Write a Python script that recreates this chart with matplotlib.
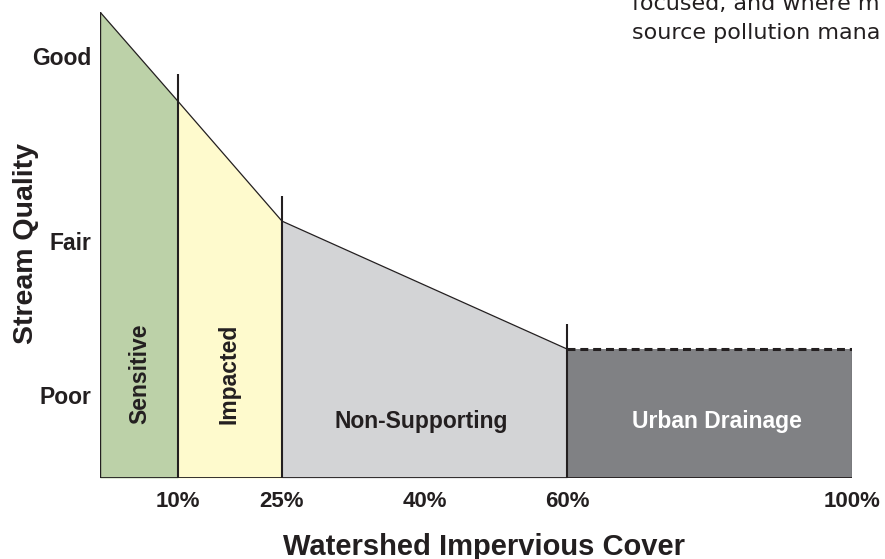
import numpy as np
import matplotlib
matplotlib.use('Agg')
import matplotlib.pyplot as plt

plt.rcParams['font.family'] = ['Liberation Sans', 'DejaVu Sans']

# schematic: the chart is not drawn to a linear scale
impervious = [0, 10, 25, 60, 100]
quality = [3.235, 2.754, 2.109, 1.30, 1.30]

zone_names = ['Sensitive', 'Impacted', 'Non-Supporting', 'Urban Drainage']
zone_bounds = [0, 10, 25, 60, 100]
zone_colors = ['#bcd1a8', '#fefacd', '#d3d4d6', '#808184']
divider_x = [10, 25, 60]
divider_top = [2.90, 2.246, 1.46]

x_ticks = [10, 25, 40, 60, 100]
x_labels = ['10%', '25%', '40%', '60%', '100%']
y_ticks = [1, 2, 3]
y_labels = ['Poor', 'Fair', 'Good']

# piecewise scales that follow the drawing
x_knots = [0, 10, 25, 40, 60, 100]
x_pos = [0, 78, 182, 325, 467, 752]
y_knots = [0, 1, 2, 3, 4]
y_pos = [0, 83, 237, 423, 609]


def fwd_x(v):
    return np.interp(v, x_knots, x_pos)


def inv_x(v):
    return np.interp(v, x_pos, x_knots)


def fwd_y(v):
    return np.interp(v, y_knots, y_pos)


def inv_y(v):
    return np.interp(v, y_pos, y_knots)


fig = plt.figure(figsize=(8.85, 5.59), dpi=100)
ax = fig.add_axes([100 / 885, 81 / 559, 752 / 885, 466 / 559])
ax.set_xscale('function', functions=(fwd_x, inv_x))
ax.set_yscale('function', functions=(fwd_y, inv_y))

# zones
for i in range(4):
    xs = [zone_bounds[i], zone_bounds[i + 1]]
    ys = [quality[i], quality[i + 1]]
    ax.fill_between(xs, 0, ys, color=zone_colors[i], linewidth=0)

# outline
ax.plot(impervious[:4], quality[:4], color='#231f20', lw=0.9)
ax.plot(impervious[3:], quality[3:], color='#231f20', lw=2.2,
        linestyle=(0, (2.6, 1.6)))
ax.plot([0, 0], [0, quality[0]], color='#231f20', lw=1.0)
ax.plot([100, 100], [0, quality[-1]], color='#231f20', lw=0.8)
ax.plot([0, 100], [0, 0], color='#231f20', lw=1.3)
ax.vlines(divider_x, 0, divider_top, color='#231f20', lw=1.5)

# zone labels
lab = dict(fontsize=16.5, fontweight='bold')
ax.text(5.1, 1.14, zone_names[0], rotation=90, ha='center', va='center',
        color='#231f20', **lab)
ax.text(17.4, 1.14, zone_names[1], rotation=90, ha='center', va='center',
        color='#231f20', **lab)
ax.text(39.6, 0.60, zone_names[2], ha='center', va='baseline',
        color='#231f20', **lab)
ax.text(81, 0.60, zone_names[3], ha='center', va='baseline',
        color='white', **lab)

ax.set_xlim(0, 100)
ax.set_ylim(0, quality[0])
ax.set_xticks(x_ticks)
ax.set_xticklabels(x_labels, fontsize=16, fontweight='bold', color='#231f20')
ax.set_yticks(y_ticks)
ax.set_yticklabels(y_labels, fontsize=16.5, fontweight='bold', color='#231f20')
ax.tick_params(axis='both', length=0)
ax.tick_params(axis='x', pad=9.5)
ax.tick_params(axis='y', pad=6.5)
for s in ax.spines.values():
    s.set_visible(False)

ax.set_xlabel('Watershed Impervious Cover', fontsize=21, fontweight='bold',
              color='#231f20')
ax.xaxis.set_label_coords(0.51, -0.118)
ax.set_ylabel('Stream Quality', fontsize=20.5, fontweight='bold',
              color='#231f20')
ax.yaxis.set_label_coords(-0.081, 0.504)

# text cut off from the surrounding page
fig.text(632 / 885, 1 - 10 / 559, 'focused, and where m', fontsize=16,
         color='#231f20', va='baseline', family='DejaVu Sans')
fig.text(632 / 885, 1 - 39 / 559, 'source pollution mana', fontsize=16,
         color='#231f20', va='baseline', family='DejaVu Sans')

fig.savefig('out.png', dpi=100)
